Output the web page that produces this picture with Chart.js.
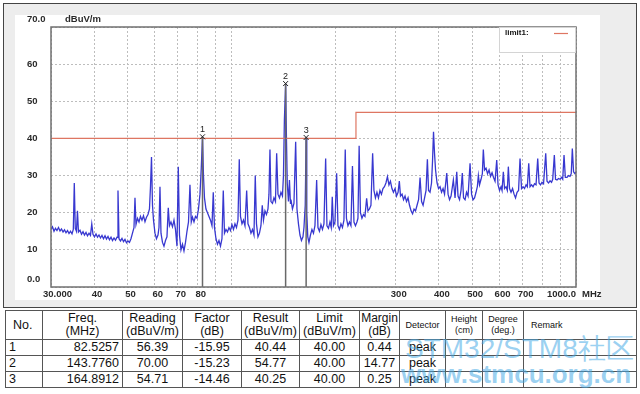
<!DOCTYPE html>
<html>
<head>
<meta charset="utf-8">
<script src="https://cdn.jsdelivr.net/npm/chart.js@4.4.1/dist/chart.umd.min.js"></script>
<style>
  body { margin:0; background:#fff; width:640px; height:394px; overflow:hidden; position:relative; font-family:"Liberation Sans", Arial, sans-serif; }
  #panel { position:absolute; left:3px; top:3px; width:632px; height:303px; border:1px solid #444; background:#ededed; }
  #inner { position:absolute; left:15px; top:15px; width:585px; height:285px; background:#fff; }
  #c { position:absolute; left:0; top:0; }
  table { position:absolute; left:5px; top:310px; width:631px; border-collapse:collapse; table-layout:fixed; color:#111; font-size:12.5px; }
  td, th { border:1px solid #555; padding:0 3px; font-weight:normal; white-space:nowrap; overflow:hidden; }
  th { height:28px; line-height:13px; text-align:center; padding:0; }
  td { height:15px; line-height:15px; text-align:center; }
  .sm { font-size:9px; line-height:11px; }
  .l { text-align:left; }
  .r { text-align:right; }
  #wm1, #wm2 { position:absolute; color:rgba(70,170,230,0.55); white-space:nowrap; }
  #wm1 { left:405px; top:330px; font-size:28px; }
  #wm2 { left:401px; top:359px; font-size:26px; font-weight:bold; }
</style>
</head>
<body>
<div id="panel"></div>
<div id="inner"></div>
<canvas id="c" width="640" height="305"></canvas>
<table id="tbl">
  <colgroup>
    <col style="width:37px"><col style="width:80px"><col style="width:60px"><col style="width:59px">
    <col style="width:58px"><col style="width:60px"><col style="width:40px"><col style="width:46px">
    <col style="width:37px"><col style="width:41px"><col style="width:113px">
  </colgroup>
  <thead>
    <tr>
      <th class="l" style="padding-left:7px">No.</th>
      <th>Freq.<br>(MHz)</th>
      <th>Reading<br>(dBuV/m)</th>
      <th>Factor<br>(dB)</th>
      <th>Result<br>(dBuV/m)</th>
      <th>Limit<br>(dBuV/m)</th>
      <th style="font-size:12px">Margin<br>(dB)</th>
      <th class="sm">Detector</th>
      <th class="sm">Height<br>(cm)</th>
      <th class="sm">Degree<br>(deg.)</th>
      <th class="sm l" style="padding-left:7px">Remark</th>
    </tr>
  </thead>
  <tbody id="rows"></tbody>
</table>
<div id="wm1">STM32/STM8社区</div>
<div id="wm2">www.stmcu.org.cn</div>
<script>
// scan trace (MHz / dBuV/m)
var traceFreq = [30.00,30.30,30.61,30.91,31.22,31.54,31.86,32.18,32.51,32.83,33.16,33.50,33.83,34.17,34.52,34.82,35.05,35.28,35.56,35.80,
  36.04,36.41,36.78,37.15,37.52,37.90,38.28,38.67,39.05,39.39,39.71,40.11,40.52,40.93,41.34,41.75,42.17,42.60,43.03,43.46,
  43.90,44.34,44.79,45.24,45.70,46.15,46.62,46.93,47.25,47.72,48.20,48.69,49.17,49.67,50.17,50.67,51.18,51.70,52.22,52.57,
  52.92,53.46,54.00,54.53,55.08,55.64,56.20,56.77,57.34,57.91,58.30,58.70,59.09,59.49,60.08,60.68,61.30,61.71,62.12,62.54,
  63.17,63.80,64.45,65.09,65.66,66.19,66.85,67.53,68.21,68.90,69.59,70.20,70.76,71.48,72.20,72.92,73.66,74.40,75.15,75.90,
  76.56,77.18,77.96,78.74,79.54,80.34,81.14,81.85,82.53,83.06,83.62,84.46,85.31,86.17,87.04,87.92,88.68,89.40,90.29,91.20,
  92.12,93.05,93.99,94.81,95.57,96.53,97.51,98.49,99.47,100.47,101.49,102.51,103.54,104.59,105.50,106.35,107.42,108.50,109.59,110.84,
  111.81,112.93,114.07,115.22,116.38,117.39,118.34,119.54,120.73,121.94,123.01,124.00,125.25,126.51,127.79,128.64,129.50,130.37,131.68,133.01,
  134.35,135.43,136.62,137.98,139.37,140.77,141.72,142.60,143.78,144.58,145.35,146.53,147.50,148.50,148.99,150.50,152.01,153.75,155.09,156.66,
  158.23,159.82,161.44,162.52,163.90,164.89,165.60,166.70,168.03,169.72,171.43,173.16,174.90,176.89,178.45,180.23,182.04,183.88,185.73,187.85,
  189.48,191.40,193.32,195.00,196.32,197.90,199.89,202.17,203.95,205.99,208.05,210.15,212.27,214.12,215.84,218.03,220.21,222.43,224.68,226.94,
  229.22,231.52,233.09,234.94,236.99,239.38,241.80,244.22,247.00,249.18,251.67,254.21,257.09,259.36,261.96,264.60,267.28,269.96,272.68,275.44,
  278.19,280.99,283.83,286.68,289.57,292.48,295.44,298.6,301.6,304.7,307.3,309.7,312.9,316.0,319.2,322.4,325.7,328.9,332.3,335.7,
  339.0,342.4,345.9,349.4,352.9,356.5,360.1,363.7,367.3,370.6,373.5,377.2,381.0,383.6,386.1,388.7,391.4,395.3,399.3,403.3,
  407.4,411.5,415.6,421.8,425.5,429.7,434.1,440.8,445.8,450.9,454.8,459.4,464.0,468.0,471.8,476.6,481.4,486.3,492.8,497.8,
  502.8,507.8,512.9,517.4,520.9,525.0,530.3,535.0,538.5,542.9,548.3,553.9,559.5,565.1,570.8,576.5,582.3,588.9,594.1,600.1,
  606.1,610.2,615.5,620.5,626.7,632.1,636.4,641.5,648.0,654.6,661.1,667.7,674.5,681.3,688.1,695.0,702.1,709.1,716.3,722.5,
  729.3,735.6,743.0,750.5,758.0,765.7,774.4,781.2,789.0,797.0,805.0,816.9,824.0,832.4,840.8,849.3,856.0,865.3,872.2,881.0,
  889.9,898.8,907.9,915.1,923.2,931.2,941.8,951.3,960.9,968.7,975.8,983.7,993.5,1000];
var traceLevel = [15.5,16.2,15.0,15.8,15.2,16.0,15.1,15.6,14.8,15.4,14.6,15.2,14.4,15.0,14.3,15.5,28.0,15.8,15.0,20.5,
  14.8,15.3,14.2,14.9,14.0,14.7,13.8,14.5,13.9,17.0,14.2,13.5,14.3,13.4,14.0,13.2,13.9,13.0,13.8,12.9,
  13.6,12.7,13.4,12.5,13.2,12.6,13.4,26.0,13.0,12.4,13.1,12.2,12.8,11.9,12.4,12.0,13.0,14.5,16.0,24.0,
  16.8,18.5,17.5,19.0,18.0,19.2,17.6,18.8,19.5,21.0,27.0,35.0,22.0,18.0,14.5,13.0,14.0,16.0,27.0,14.5,
  12.0,11.0,12.5,13.5,21.3,16.5,17.5,16.2,18.0,15.5,11.0,32.4,14.0,10.0,11.5,9.7,12.0,15.0,17.5,27.5,
  17.5,18.8,17.5,19.0,18.5,21.0,25.0,32.0,40.44,30.0,24.0,21.0,20.0,19.0,18.0,16.5,25.5,16.0,13.0,11.5,
  12.5,11.0,13.0,26.0,14.5,15.5,14.8,16.0,15.2,16.8,15.5,17.0,16.0,18.0,34.4,19.0,17.0,18.0,16.5,26.0,
  17.0,16.0,14.5,15.5,14.0,30.0,17.0,13.5,14.5,16.5,22.0,18.0,20.5,19.5,21.0,25.0,37.0,23.0,22.5,24.0,
  23.0,36.0,25.0,24.0,25.5,24.5,30.0,45.0,54.77,40.0,28.0,23.0,28.8,22.5,23.5,21.0,22.5,39.1,21.0,17.0,
  14.0,12.5,13.5,16.0,22.0,40.25,20.0,13.5,12.0,14.0,15.5,14.5,16.5,28.8,16.0,15.0,16.8,15.5,17.0,34.6,
  16.5,15.8,17.5,16.0,24.3,16.5,17.5,30.6,16.5,15.5,17.0,16.0,18.0,37.0,18.5,16.5,17.5,16.5,32.6,17.5,
  16.5,17.5,18.5,38.0,20.0,18.5,19.5,19.0,23.9,20.5,21.0,22.0,36.0,26.0,24.0,25.5,24.0,26.0,25.0,26.5,
  27.0,28.0,29.7,27.5,28.5,26.5,25.5,26.5,24.5,25.5,28.5,24.5,25.0,23.5,24.5,23.0,24.0,22.0,20.5,19.7,
  21.0,20.5,22.0,23.5,29.5,23.0,22.0,24.0,26.0,34.4,26.0,25.5,28.0,34.0,41.8,36.0,31.5,28.0,26.5,27.0,
  25.5,26.5,25.0,30.7,25.0,23.5,24.5,28.8,24.0,31.0,24.5,23.5,26.0,30.7,24.0,23.5,25.5,24.5,33.3,25.0,
  23.5,24.0,25.5,27.0,30.0,27.5,29.0,30.5,37.0,31.5,32.0,30.5,31.5,29.8,30.8,29.5,28.5,34.2,27.5,26.0,
  27.0,26.0,31.0,26.5,27.0,26.0,32.4,26.5,25.5,26.5,25.0,24.0,25.5,26.0,34.6,26.5,27.0,26.5,27.5,27.0,
  33.3,27.0,27.5,27.0,27.8,27.5,34.6,28.0,27.5,28.2,27.8,36.0,28.5,28.0,28.6,28.2,29.0,35.5,29.0,28.8,
  29.2,29.0,29.5,29.0,35.5,29.5,29.5,30.0,29.8,30.5,37.3,31.0,30.5,31.0];

// limit1 (QP class B)
var limitFreq = [30, 230, 230, 1000];
var limitLevel = [40, 40, 47, 47];

// marker table
var markerNo = [1, 2, 3];
var markerFreq = [82.5257, 143.7760, 164.8912];
var markerReading = [56.39, 70.00, 54.71];
var markerFactor = [-15.95, -15.23, -14.46];
var markerResult = [40.44, 54.77, 40.25];
var markerLimit = [40.00, 40.00, 40.00];
var markerMargin = [0.44, 14.77, 0.25];
var markerDetector = ['peak', 'peak', 'peak'];

// axes
var yTicks = [0, 10, 20, 30, 40, 50, 60, 70];
var yTickLabels = ['0.0', '10', '20', '30', '40', '50', '60', '70.0'];
var xGridFreqs = [30, 40, 50, 60, 70, 80, 90, 100, 200, 300, 400, 500, 600, 700, 800, 900, 1000];
var xLabelFreqs = [30, 40, 50, 60, 70, 80, 300, 400, 500, 600, 700, 1000];
var xLabelText = ['30.000', '40', '50', '60', '70', '80', '300', '400', '500', '600', '700', '1000.0'];

var TRACE = 'rgb(56,56,208)';
var LIMIT = 'rgb(222,118,98)';
var LABEL_FONT = 'bold 9.5px "Liberation Sans", Arial, sans-serif';

function pts(xs, ys) { return xs.map(function (x, i) { return { x: x, y: ys[i] }; }); }

var datasets = [
  { label: 'trace', data: pts(traceFreq, traceLevel), borderColor: TRACE, borderWidth: 1.3, pointRadius: 0, order: 4 },
  { label: 'limit1', data: pts(limitFreq, limitLevel), borderColor: LIMIT, borderWidth: 1.2, pointRadius: 0, order: 3 }
];
markerFreq.forEach(function (f, i) {
  datasets.push({ label: 'mk' + markerNo[i], data: [{ x: f, y: 0 }, { x: f, y: markerResult[i] }],
    borderColor: 'rgb(105,105,105)', borderWidth: 1.5, pointRadius: 0, order: 2 });
});
datasets.push({ label: 'marks', data: pts(markerFreq, markerResult), showLine: false, pointStyle: 'crossRot',
  pointRadius: 3.5, borderColor: '#222', borderWidth: 1, order: 1 });

var decor = {
  id: 'decor',
  afterDatasetsDraw: function (chart) {
    var ctx = chart.ctx, a = chart.chartArea, xs = chart.scales.x, ys = chart.scales.y;
    ctx.save();
    // plot frame
    ctx.strokeStyle = '#707070';
    ctx.lineWidth = 1.5;
    ctx.strokeRect(a.left, a.top, a.right - a.left, a.bottom - a.top);
    // legend box
    var lx = a.right - 77, ly = a.top;
    ctx.fillStyle = '#fff';
    ctx.fillRect(lx, ly + 1, 76, 24);
    ctx.strokeStyle = '#d4d4d4';
    ctx.lineWidth = 1;
    ctx.strokeRect(lx + 0.5, ly + 0.5, 76, 25);
    ctx.fillStyle = '#111';
    ctx.font = 'bold 8px "Liberation Sans", Arial, sans-serif';
    ctx.textBaseline = 'middle';
    ctx.textAlign = 'left';
    ctx.fillText('limit1:', lx + 6, ly + 6);
    ctx.strokeStyle = LIMIT;
    ctx.lineWidth = 1.2;
    ctx.beginPath(); ctx.moveTo(a.right - 22, ly + 6.5); ctx.lineTo(a.right - 8, ly + 6.5); ctx.stroke();
    // marker numbers
    ctx.fillStyle = '#222';
    ctx.font = '9px "Liberation Sans", Arial, sans-serif';
    ctx.textAlign = 'center';
    ctx.textBaseline = 'alphabetic';
    markerFreq.forEach(function (f, i) {
      ctx.fillText(String(markerNo[i]), xs.getPixelForValue(f), ys.getPixelForValue(markerResult[i]) - 4.5);
    });
    // y labels
    ctx.fillStyle = '#2a2a2a';
    ctx.font = LABEL_FONT;
    ctx.textAlign = 'left';
    ctx.textBaseline = 'middle';
    yTicks.forEach(function (v, i) {
      var y = ys.getPixelForValue(v);
      if (v === 0 || v === 70) y -= 8;
      ctx.fillText(yTickLabels[i], 27, y);
    });
    ctx.fillText('dBuV/m', 65, a.top - 8);
    // x labels
    var ty = a.bottom + 7;
    xLabelFreqs.forEach(function (f, i) {
      var x = xs.getPixelForValue(f);
      if (f === 30) { ctx.textAlign = 'left'; x -= 8; }
      else if (f === 1000) { ctx.textAlign = 'right'; }
      else { ctx.textAlign = 'center'; x += 3; }
      ctx.fillText(xLabelText[i], x, ty);
    });
    ctx.textAlign = 'left';
    ctx.fillText('MHz', a.right + 6, ty);
    ctx.restore();
  }
};

new Chart(document.getElementById('c'), {
  type: 'line',
  data: { datasets: datasets },
  options: {
    responsive: false,
    animation: false,
    devicePixelRatio: 1,
    layout: { padding: { left: 51, right: 64, top: 27, bottom: 18 } },
    plugins: { legend: { display: false }, tooltip: { enabled: false } },
    elements: { line: { tension: 0 } },
    scales: {
      x: {
        type: 'logarithmic', min: 30, max: 1000,
        afterBuildTicks: function (s) { s.ticks = xGridFreqs.map(function (v) { return { value: v }; }); },
        ticks: { display: false },
        grid: { color: '#bdbdbd', lineWidth: 1, drawTicks: false },
        border: { display: false, dash: [2, 2] }
      },
      y: {
        type: 'linear', min: 0, max: 70,
        afterBuildTicks: function (s) { s.ticks = yTicks.map(function (v) { return { value: v }; }); },
        ticks: { display: false },
        grid: { color: '#bdbdbd', lineWidth: 1, drawTicks: false },
        border: { display: false, dash: [2, 2] }
      }
    }
  },
  plugins: [decor]
});

// table rows
var rows = document.getElementById('rows');
markerNo.forEach(function (n, i) {
  var tr = document.createElement('tr');
  tr.innerHTML = '<td class="l">' + n + '</td>' +
    '<td class="r">' + markerFreq[i].toFixed(4) + '</td>' +
    '<td>' + markerReading[i].toFixed(2) + '</td>' +
    '<td>' + markerFactor[i].toFixed(2) + '</td>' +
    '<td>' + markerResult[i].toFixed(2) + '</td>' +
    '<td>' + markerLimit[i].toFixed(2) + '</td>' +
    '<td>' + markerMargin[i].toFixed(2) + '</td>' +
    '<td>' + markerDetector[i] + '</td>' +
    '<td></td><td></td><td></td>';
  rows.appendChild(tr);
});
</script>
</body>
</html>
